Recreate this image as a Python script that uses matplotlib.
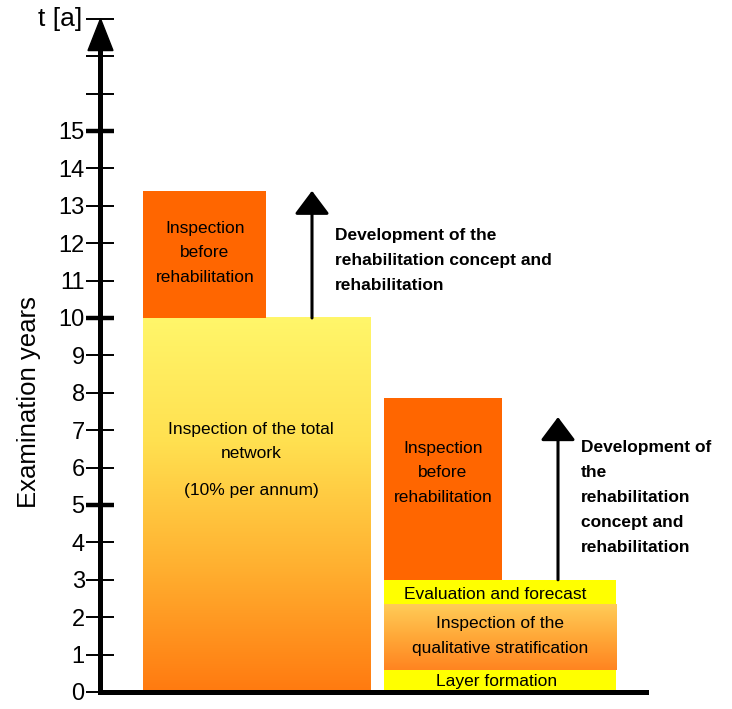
import matplotlib
matplotlib.use("Agg")
import matplotlib.pyplot as plt
from matplotlib.colors import LinearSegmentedColormap
from matplotlib import font_manager
import numpy as np

# examination years (t in a)
total_network = (0, 10)          # inspection of the total network
before_rehab_1 = (10, 13.4)      # inspection before rehabilitation, case 1
before_rehab_2 = (3, 7.85)       # inspection before rehabilitation, case 2
layer_formation = (0, 0.6)
stratification = (0.6, 2.35)
evaluation = (2.35, 3.0)
dev_arrow_1 = (10, 13.4)
dev_arrow_2 = (3, 7.35)

y_ticks = list(range(0, 19))
y_labels = [str(v) if v <= 15 else "" for v in y_ticks]

names = {f.name for f in font_manager.fontManager.ttflist}
narrow = "Liberation Sans Narrow" if "Liberation Sans Narrow" in names else "Liberation Sans"
plt.rcParams["font.family"] = ["Liberation Sans", "DejaVu Sans"]

fig = plt.figure(figsize=(7.32, 7.09), dpi=100)
ax = fig.add_axes([100 / 732, 17 / 709, 546 / 732, 674 / 709])
ax.set_xlim(0, 546)
ax.set_ylim(0, 18.02)

orange = "#FF6600"
yellow = "#FFFF00"
big_cmap = LinearSegmentedColormap.from_list("big", ["#FF7A10", "#FFB030", "#FFE050", "#FFF66A"])
mid_cmap = LinearSegmentedColormap.from_list("mid", ["#FF8420", "#FFA838", "#FFCC58"])
grad = np.linspace(0, 1, 256).reshape(-1, 1)


def gradient_bar(x0, x1, span, cmap):
    ax.imshow(grad, cmap=cmap, origin="lower", aspect="auto",
              extent=[x0, x1, span[0], span[1]], zorder=1)


# group 1
gradient_bar(43, 270, total_network, big_cmap)
ax.bar(43, before_rehab_1[1] - before_rehab_1[0], bottom=before_rehab_1[0],
       width=123, align="edge", color=orange, zorder=2)

# group 2
ax.bar(284, before_rehab_2[1] - before_rehab_2[0], bottom=before_rehab_2[0],
       width=118, align="edge", color=orange, zorder=2)
ax.bar(284, layer_formation[1] - layer_formation[0], bottom=layer_formation[0],
       width=232, align="edge", color=yellow, zorder=2)
gradient_bar(284, 516, stratification, mid_cmap)
ax.bar(284, evaluation[1] - evaluation[0], bottom=evaluation[0],
       width=232, align="edge", color=yellow, zorder=2)

arrow_kw = dict(arrowstyle="-|>,head_length=0.72,head_width=0.54", mutation_scale=20,
                lw=2.2, color="black", shrinkA=0, shrinkB=0)
ax.annotate("", xy=(212, dev_arrow_1[1]), xytext=(212, dev_arrow_1[0]),
            arrowprops=arrow_kw, zorder=3)
ax.annotate("", xy=(458, dev_arrow_2[1]), xytext=(458, dev_arrow_2[0]),
            arrowprops=arrow_kw, zorder=3)

# bar texts
tk = dict(family=[narrow, "DejaVu Sans"], fontsize=12.5, ha="center", va="center",
          linespacing=1.8, zorder=4)
ax.text(105, 11.74, "Inspection\nbefore\nrehabilitation", **tk)
ax.text(151, 6.7, "Inspection of the total\nnetwork", **tk)
ax.text(151, 5.4, "(10% per annum)", **tk)
ax.text(343, 5.86, "Inspection\nbefore\nrehabilitation", **tk)
ax.text(395, 2.6, "Evaluation and forecast", **tk)
ax.text(400, 1.5, "Inspection of the\nqualitative stratification", **tk)
ax.text(397, 0.28, "Layer formation", **tk)

bk = dict(family=[narrow, "DejaVu Sans"], fontsize=12.5, fontweight="bold",
          ha="left", va="top", linespacing=1.84, zorder=4)
ax.text(235, 12.41, "Development of the\nrehabilitation concept and\nrehabilitation", **bk)
ax.text(481, 6.74, "Development of\nthe\nrehabilitation\nconcept and\nrehabilitation", **bk)

# axes
for s in ["top", "right"]:
    ax.spines[s].set_visible(False)
ax.spines["left"].set_linewidth(3.6)
ax.spines["bottom"].set_linewidth(3.6)
ax.spines["left"].set_bounds(0, 17.5)
ax.set_xticks([])
ax.set_yticks(y_ticks)
ax.set_yticklabels(y_labels, fontsize=17)
ax.tick_params(axis="y", direction="inout", length=20, width=1.4, pad=1)
for i, t in enumerate(ax.yaxis.get_major_ticks()):
    if y_ticks[i] in (5, 10, 15):
        t.tick1line.set_markeredgewidth(3.2)

ax.fill([-12, 13, 0.5], [17.15, 17.15, 18.0], color="black", clip_on=False, zorder=5)
ax.text(-18, 18.0, "t [a]", fontsize=19, ha="right", va="center")
ax.set_ylabel("Examination years", fontsize=18.5)
ax.yaxis.set_label_coords(-0.108, 0.43)

fig.savefig("out.png", dpi=100)
